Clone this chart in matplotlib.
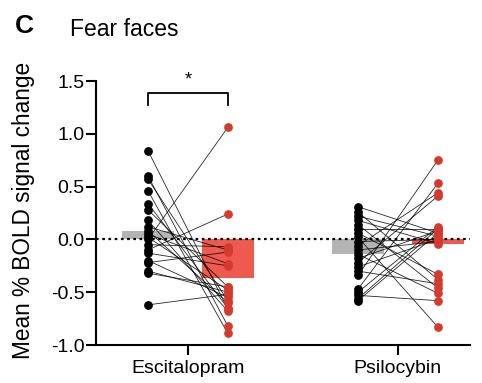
import matplotlib
matplotlib.use("Agg")
import matplotlib.pyplot as plt
import numpy as np

plt.rcParams["font.family"] = ["Liberation Sans", "DejaVu Sans"]

# Mean % BOLD signal change to fear faces, baseline vs 6-week follow-up
groups = ["Escitalopram", "Psilocybin"]

esc_pre = [0.84, 0.60, 0.57, 0.46, 0.34, 0.28, 0.18, 0.12, 0.08, 0.05,
           0.02, 0.00, -0.05, -0.10, -0.13, -0.20, -0.22, -0.30, -0.32, -0.62]
esc_post = [-0.66, -0.82, -0.58, -0.89, -0.65, -0.45, -0.68, -0.10, -0.60, -0.23,
            -0.48, 1.06, -0.07, 0.24, -0.25, -0.55, -0.12, -0.50, -0.45, -0.52]

psi_pre = [0.31, 0.26, 0.22, 0.18, 0.14, 0.10, 0.06, 0.02, -0.02, -0.06, -0.10,
           -0.14, -0.18, -0.22, -0.26, -0.30, -0.34, -0.47, -0.50, -0.53, -0.56, -0.58]
psi_post = [0.06, -0.38, 0.03, -0.04, -0.46, 0.10, -0.33, -0.83, 0.00, 0.44, -0.02,
            -0.51, 0.08, 0.41, 0.00, -0.42, 0.75, 0.53, 0.12, -0.58, 0.10, 0.06]

yticks = [-1.0, -0.5, 0.0, 0.5, 1.0, 1.5]

GREY = "#b4b4b4"
RED_BAR = "#ef5a50"
RED_DOT = "#d43a2e"

fig = plt.figure(figsize=(4.82, 3.83), dpi=100)
ax = fig.add_axes([0.199, 0.0992, 0.776, 0.6893])

off = 0.19
bw = 0.25
for i, (pre, post) in enumerate([(esc_pre, esc_post), (psi_pre, psi_post)]):
    pre = np.array(pre)
    post = np.array(post)
    x0, x1 = i - off, i + off
    ax.bar(x0, pre.mean(), width=bw, color=GREY, zorder=1)
    ax.bar(x1, post.mean(), width=bw, color=RED_BAR, zorder=1)
    for a, b in zip(pre, post):
        ax.plot([x0, x1], [a, b], color="black", lw=0.6, alpha=0.85, zorder=3)
    ax.plot(np.full(len(pre), x0), pre, "o", color="black", ms=6.3, mew=0, zorder=4)
    ax.plot(np.full(len(post), x1), post, "o", color=RED_DOT, ms=6.3, mew=0, zorder=4)

ax.axhline(0, color="black", ls=(0, (1.2, 1.6)), lw=1.6, zorder=2)

# significance bracket over escitalopram
ax.plot([-off, -off, off, off], [1.27, 1.39, 1.39, 1.27], color="black", lw=1.3,
        clip_on=False)
ax.text(0, 1.43, "*", ha="center", va="bottom", fontsize=13)

ax.set_xlim(-0.438, 1.343)
ax.set_ylim(-1.0, 1.5)
ax.set_yticks(yticks)
ax.set_yticklabels([f"{v:.1f}" for v in yticks])
ax.set_xticks([0, 1])
ax.set_xticklabels(groups)
ax.tick_params(axis="both", labelsize=14, length=7, width=1.5, direction="out")
ax.tick_params(axis="y", pad=1)
ax.tick_params(axis="x", pad=4)
for side in ["top", "right"]:
    ax.spines[side].set_visible(False)
for side in ["left", "bottom"]:
    ax.spines[side].set_linewidth(1.5)

ax.set_ylabel("Mean % BOLD signal change", fontsize=16.3)
ax.yaxis.set_label_coords(-0.163, 0.511)

fig.text(0.031, 0.914, "C", fontsize=19, fontweight="bold", va="baseline")
fig.text(0.145, 0.907, "Fear faces", fontsize=16.5, va="baseline")

fig.savefig("out.png", dpi=100)
